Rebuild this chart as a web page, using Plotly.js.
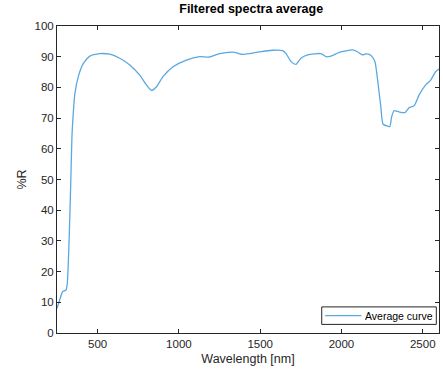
<!DOCTYPE html>
<html><head><meta charset="utf-8">
<script src="https://cdn.plot.ly/plotly-3.0.1.min.js"></script>
<style>html,body{margin:0;padding:0;background:#fff}#c{width:443px;height:376px}</style>
</head><body><div id="c"></div>
<script>
const wavelength = [250,268,285,305,313,325,334,342,350,360,381,412,452,514,575,636,698,759,800,831,862,902,964,1046,1127,1189,1250,1332,1383,1434,1496,1577,1638,1659,1690,1720,1751,1792,1874,1905,1935,1987,2068,2098,2129,2150,2180,2205,2221,2242,2256,2283,2297,2309,2324,2354,2391,2416,2447,2477,2518,2549,2579,2600];
const reflectance = [8,11,13.5,14,16,31,47.7,64,71.6,78,83.5,87.8,90.2,91,90.8,89.5,87.3,84,80.8,79,80.2,83.5,86.7,88.9,90,89.9,91,91.5,90.8,91,91.6,92.1,92,91,88.4,87.5,89.5,90.6,91,90,90.2,91.4,92.2,91.6,90.6,90.9,90.5,88.5,83,73.7,68,67.4,67.2,70.5,72.4,72,71.8,73.4,74,77.5,80.8,82.4,85.1,86];
const seriesName = 'Average curve';
const chartTitle = 'Filtered spectra average';
const xTitle = 'Wavelength [nm]';
const yTitle = '%R';

const FONT = 'Liberation Sans, Arial, sans-serif';
const lineColor = '#5aa8e0';
const axCommon = {
  showline:true, mirror:'ticks', linecolor:'#262626', linewidth:1,
  ticks:'inside', ticklen:4, tickcolor:'#262626', showgrid:false, zeroline:false,
  tickfont:{family:FONT, size:11.5, color:'#262626'}
};
Plotly.newPlot('c', [{
  x: wavelength, y: reflectance, type:'scatter', mode:'lines', name: seriesName,
  line:{color:lineColor, width:1.3, shape:'spline', smoothing:0.6}, showlegend:false
}], {
  width:443, height:376,
  margin:{l:57, r:4, t:26, b:43},
  paper_bgcolor:'#fff', plot_bgcolor:'#fff',
  title:{text:'<b>'+chartTitle+'</b>', x:0.567, xanchor:'center', y:0.988, yanchor:'top',
    font:{family:FONT, size:12.5, color:'#000'}},
  xaxis:Object.assign({}, axCommon, {range:[250,2600], tickvals:[500,1000,1500,2000,2500],
    title:{text:xTitle, standoff:5, font:{family:FONT, size:12.5, color:'#262626'}}}),
  yaxis:Object.assign({}, axCommon, {range:[0,100], dtick:10,
    title:{text:yTitle, standoff:5, font:{family:FONT, size:12.5, color:'#262626'}}}),
  shapes:[
    {type:'rect', xref:'x domain', yref:'y domain', x0:0.693, x1:0.993, y0:0.028, y1:0.085,
     line:{color:'#262626', width:1}, fillcolor:'#fff'},
    {type:'line', xref:'x domain', yref:'y domain', x0:0.702, x1:0.797, y0:0.0565, y1:0.0565,
     line:{color:lineColor, width:1.3}}
  ],
  annotations:[
    {xref:'x domain', yref:'y domain', x:0.801, y:0.0565, xanchor:'left', yanchor:'middle',
     text:seriesName, showarrow:false, font:{family:FONT, size:10.5, color:'#000'}}
  ],
  showlegend:false
}, {staticPlot:true});
</script></body></html>
